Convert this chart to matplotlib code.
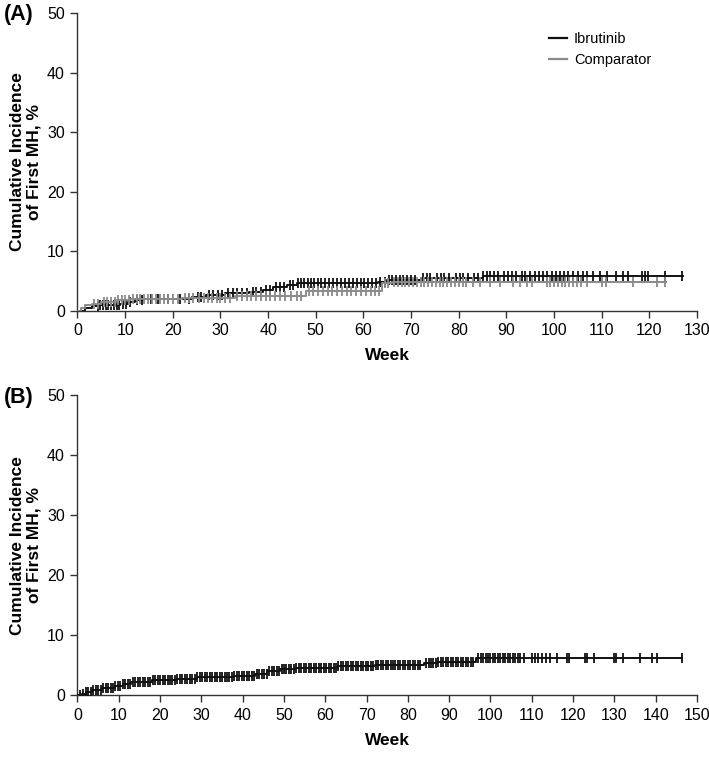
import numpy as np
import matplotlib
matplotlib.use("Agg")
import matplotlib.pyplot as plt

plt.rcParams['font.family'] = ['Liberation Sans', 'DejaVu Sans']

# Panel A - step curves (week, cumulative incidence %)
ibr_a_weeks = [0, 1.5, 3.0, 4.5, 9, 10.5, 12, 14, 24, 27, 31, 36, 39, 41, 44, 46, 63, 65, 72, 85, 127]
ibr_a_vals = [0, 0.4, 0.8, 1.0, 1.2, 1.5, 1.8, 2.0, 2.3, 2.6, 2.9, 3.2, 3.5, 3.9, 4.3, 4.6, 4.9, 5.2, 5.5, 5.9, 5.9]
ibr_a_cens = [4.2, 4.8, 5.3, 5.9, 6.5, 7.0, 7.6, 8.2, 8.8, 9.5, 10.2, 11.0, 12.5, 13.5, 15.5, 17.0, 19.0, 21.5,
              23.5, 25.2, 26.0, 27.5, 28.4, 29.5, 30.3, 31.5, 32.6, 33.4, 34.5, 35.5, 36.8, 37.5, 38.6, 39.5,
              40.5, 41.6, 42.5, 43.4, 44.5, 45.3, 46.2, 46.9, 47.6, 48.3, 49.0, 49.7, 50.4, 51.1, 52.0, 52.8,
              53.6, 54.4, 55.4, 56.2, 57.0, 57.8, 58.6, 59.4, 60.2, 61.0, 61.9, 62.7, 63.5, 64.6, 65.3, 66.0,
              66.8, 67.6, 68.4, 69.2, 70.0, 70.8, 72.5, 73.3, 74.0, 75.5, 76.3, 77.0, 78.0, 79.5, 80.2, 81.0,
              82.0, 83.2, 84.0, 85.2, 85.9, 86.6, 87.4, 88.3, 89.5, 90.3, 91.2, 92.0, 93.2, 94.0, 94.9, 96.0,
              96.8, 97.7, 98.6, 99.5, 100.4, 101.2, 102.0, 103.0, 104.0, 105.0, 106.0, 107.0, 108.2, 109.7,
              111.1, 113.1, 114.5, 115.6, 118.4, 119.1, 119.8, 123.3, 126.8]
cmp_a_weeks = [0, 0.8, 1.5, 3, 5, 8, 11, 22, 33, 48, 64, 66, 123.5]
cmp_a_vals = [0, 0.5, 0.9, 1.2, 1.5, 1.8, 2.0, 2.2, 2.5, 3.3, 4.6, 4.9, 4.9]
cmp_a_cens = [3.5, 4.2, 5.5, 6.2, 7.0, 7.8, 8.5, 9.3, 10.0, 10.8, 11.6, 12.4, 13.2, 14.0, 14.8, 15.6, 16.5,
              17.3, 18.1, 19.0, 20.0, 21.0, 22.5, 23.3, 24.3, 25.5, 26.5, 27.3, 28.3, 29.2, 30.0, 31.0, 32.0,
              33.5, 34.5, 35.5, 36.5, 37.5, 38.5, 39.5, 40.5, 41.5, 42.5, 43.5, 44.8, 46.0, 47.0, 48.5, 49.5,
              50.5, 51.5, 52.5, 53.5, 54.5, 55.5, 56.5, 57.5, 58.5, 59.5, 60.5, 61.5, 62.5, 63.3, 64.5, 65.2,
              66.5, 67.3, 68.0, 68.8, 69.6, 70.4, 71.2, 72.0, 72.8, 73.6, 74.4, 75.2, 76.0, 76.8, 77.6, 78.4,
              79.2, 80.0, 80.8, 81.6, 83.0, 84.4, 86.6, 88.7, 91.4, 92.9, 94.3, 95.3, 98.5, 99.2, 100.0, 100.8,
              101.6, 102.4, 103.2, 104.0, 104.8, 105.6, 106.9, 110.0, 111.0, 116.6, 121.6, 123.3]

# Panel B - single curve
all_b_weeks = [0, 1, 2, 3.5, 6, 9, 11, 13, 18, 24, 29, 38, 43, 46, 49, 53, 63, 72, 84, 87, 96.5, 146.5]
all_b_vals = [0, 0.3, 0.6, 0.9, 1.2, 1.5, 1.8, 2.2, 2.5, 2.7, 3.0, 3.2, 3.5, 4.0, 4.4, 4.6, 4.8, 5.0, 5.3,
              5.6, 6.2, 6.2]
all_b_cens = [0.5, 1.3, 2.0, 2.6, 3.2, 3.8, 4.4, 5.0, 5.6, 6.2, 6.8, 7.4, 8.0, 8.6, 9.2, 9.8, 10.4, 11.0,
              11.6, 12.2, 12.8, 13.4, 14.0, 14.6, 15.2, 15.8, 16.4, 17.0, 17.6, 18.2, 18.8, 19.4, 20.0, 20.6,
              21.2, 21.8, 22.4, 23.0, 23.6, 24.2, 24.8, 25.4, 26.0, 26.6, 27.2, 27.8, 28.4, 29.0, 29.6, 30.2,
              30.8, 31.4, 32.0, 32.6, 33.2, 33.8, 34.4, 35.0, 35.6, 36.2, 36.8, 37.4, 38.0, 38.6, 39.2, 39.8,
              40.4, 41.0, 41.6, 42.2, 42.8, 43.4, 44.0, 44.6, 45.2, 45.8, 46.4, 47.0, 47.6, 48.2, 48.8, 49.4,
              50.0, 50.6, 51.2, 51.8, 52.4, 53.0, 53.6, 54.2, 54.8, 55.4, 56.0, 56.6, 57.2, 57.8, 58.4, 59.0,
              59.6, 60.2, 60.8, 61.4, 62.0, 62.6, 63.2, 63.8, 64.4, 65.0, 65.6, 66.2, 66.8, 67.4, 68.0, 68.6,
              69.2, 69.8, 70.4, 71.0, 71.6, 72.2, 72.8, 73.4, 74.0, 74.6, 75.2, 75.8, 76.4, 77.0, 77.6, 78.2,
              78.8, 79.4, 80.0, 80.6, 81.2, 81.8, 82.4, 83.0, 84.4, 85.0, 85.6, 86.2, 86.8, 87.4, 88.0, 88.6,
              89.2, 89.8, 90.4, 91.0, 91.6, 92.2, 92.8, 93.4, 94.0, 94.6, 95.2, 95.8, 97.0, 97.6, 98.2, 98.8,
              99.4, 100.0, 100.6, 101.2, 101.8, 102.4, 103.0, 103.6, 104.2, 104.8, 105.4, 106.0, 106.6, 107.2,
              108.0, 110.0, 110.8, 111.6, 112.4, 113.4, 114.4, 116.1, 118.5, 118.9, 122.9, 123.3, 125.0,
              130.0, 130.5, 132.0, 136.2, 139.1, 140.3, 146.3]

legend_labels = ["Ibrutinib", "Comparator"]
black = "#111111"
gray = "#8a8a8a"
ylabel = "Cumulative Incidence\nof First MH, %"


def value_at(weeks, vals, t):
    idx = np.searchsorted(weeks, t, side="right") - 1
    return np.asarray(vals)[idx]


def draw_curve(ax, weeks, vals, cens, color, label=None):
    ax.step(weeks, vals, where="post", color=color, lw=1.4, label=label, zorder=3)
    ax.plot(cens, value_at(weeks, vals, cens), linestyle="none", marker="|",
            ms=6.5, mew=1.3, color=color, zorder=3)


def style_axes(ax, xmax):
    ax.set_xlim(0, xmax)
    ax.set_ylim(0, 50)
    ax.set_xticks(range(0, xmax + 1, 10))
    ax.set_yticks(range(0, 51, 10))
    ax.spines["top"].set_visible(False)
    ax.spines["right"].set_visible(False)
    for s in ("left", "bottom"):
        ax.spines[s].set_linewidth(1.0)
        ax.spines[s].set_color("#333333")
    ax.tick_params(direction="out", length=5, width=1.0, labelsize=11.5, colors="#333333",
                   labelcolor="black", pad=4)
    ax.set_xlabel("Week", fontsize=12.5, fontweight="bold", labelpad=7)
    ax.set_ylabel(ylabel, fontsize=12.5, fontweight="bold", linespacing=1.1)
    ax.yaxis.set_label_coords(-0.058, 0.5)


fig = plt.figure(figsize=(7.09, 7.57), dpi=100)
ax_a = fig.add_axes([0.1093, 0.5896, 0.8737, 0.3932])
ax_b = fig.add_axes([0.1093, 0.0815, 0.8737, 0.3965])

draw_curve(ax_a, ibr_a_weeks, ibr_a_vals, ibr_a_cens, black, legend_labels[0])
draw_curve(ax_a, cmp_a_weeks, cmp_a_vals, cmp_a_cens, gray, legend_labels[1])
style_axes(ax_a, 130)
leg = ax_a.legend(loc="upper left", bbox_to_anchor=(0.74, 0.98), frameon=False, fontsize=10.5,
                  handlelength=1.2, handletextpad=0.5, labelspacing=0.45)
for h in leg.legend_handles:
    h.set_linewidth(1.6)

draw_curve(ax_b, all_b_weeks, all_b_vals, all_b_cens, black)
style_axes(ax_b, 150)

fig.text(0.006, 0.981, "(A)", fontsize=15.5, fontweight="bold", va="center")
fig.text(0.006, 0.475, "(B)", fontsize=15.5, fontweight="bold", va="center")

fig.savefig("out.png", dpi=100)
